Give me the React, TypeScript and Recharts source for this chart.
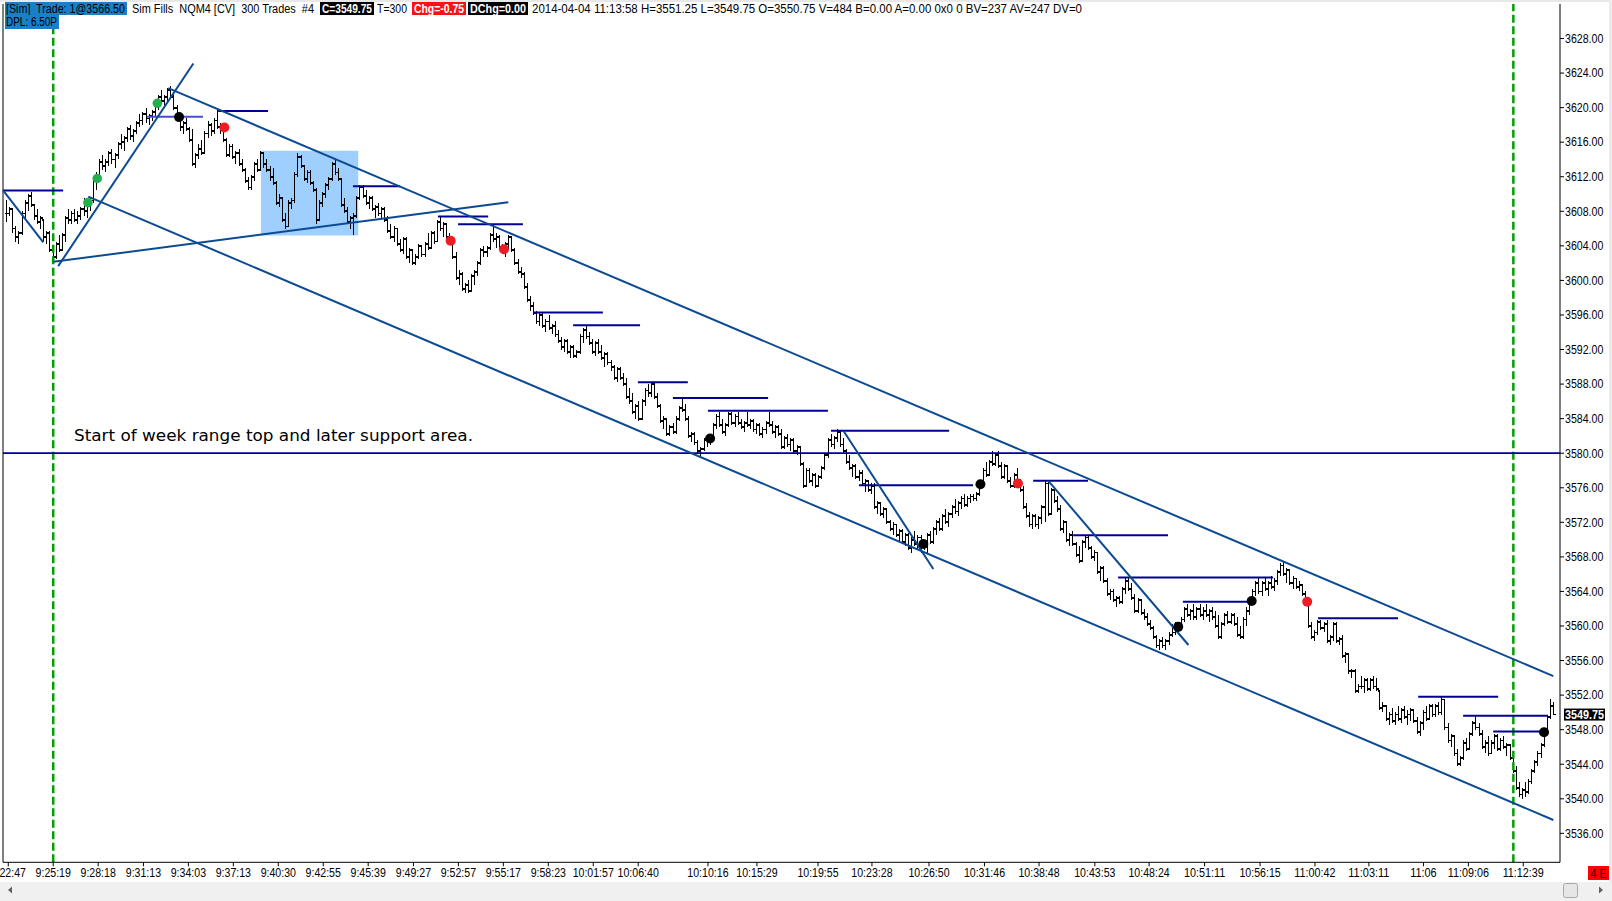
import React from 'react';
import {
  ComposedChart, Bar, XAxis, YAxis, ReferenceLine, ReferenceDot, ReferenceArea,
} from 'recharts';

// each bar: [high, low, close], NQM4 300-trade bars
type Hlc = [number, number, number];

const barsA: Hlc[] = [
  [3609.25, 3606.75, 3607.75], [3608.5, 3607.5, 3608.25], [3608.25, 3605.5, 3606.0], [3606.25, 3604.5, 3605.0],
  [3605.75, 3604.25, 3605.5], [3608.0, 3605.25, 3607.75], [3609.25, 3607.25, 3609.0], [3610.0, 3608.0, 3609.75],
  [3610.25, 3608.5, 3608.75], [3608.75, 3607.0, 3607.5], [3608.25, 3606.5, 3606.75], [3607.5, 3606.0, 3607.25],
  [3607.0, 3604.5, 3605.0], [3605.75, 3604.25, 3605.5], [3605.75, 3603.25, 3603.5], [3604.0, 3602.25, 3602.75],
  [3604.5, 3602.5, 3604.25], [3605.25, 3603.25, 3603.5], [3605.5, 3603.5, 3605.25], [3607.5, 3604.5, 3607.25],
  [3608.25, 3606.5, 3607.0], [3608.0, 3606.5, 3607.75], [3608.25, 3606.75, 3607.0], [3608.0, 3606.5, 3607.5],
  [3608.5, 3607.0, 3608.25], [3609.5, 3607.5, 3608.0], [3609.25, 3607.25, 3609.0], [3609.5, 3608.0, 3609.25],
  [3612.0, 3609.0, 3611.75], [3612.5, 3610.5, 3612.0], [3614.0, 3611.75, 3613.75],
];
const barsB: Hlc[] = [
  [3614.5, 3612.75, 3613.25], [3614.0, 3612.5, 3613.75], [3615.0, 3613.25, 3614.75], [3615.25, 3613.5, 3614.0],
  [3614.75, 3613.0, 3614.5], [3616.0, 3614.0, 3615.75], [3617.0, 3615.25, 3616.0], [3616.75, 3615.0, 3616.5],
  [3617.75, 3616.0, 3617.5], [3618.0, 3616.25, 3616.75], [3617.5, 3616.0, 3617.25], [3618.5, 3617.0, 3618.25],
  [3619.25, 3617.75, 3618.5], [3619.5, 3618.0, 3619.25], [3620.0, 3618.25, 3618.75], [3619.25, 3618.0, 3619.0],
  [3619.75, 3618.5, 3619.5], [3620.75, 3619.0, 3620.5], [3621.5, 3619.75, 3621.25], [3622.0, 3620.5, 3620.75],
  [3621.5, 3620.0, 3621.25], [3622.25, 3620.75, 3622.0], [3622.5, 3621.0, 3621.25], [3621.75, 3619.75, 3620.0],
  [3620.25, 3618.75, 3619.0],
];
const barsC: Hlc[] = [
  [3619.0, 3617.25, 3617.75], [3618.5, 3617.0, 3618.25], [3618.75, 3617.25, 3617.5], [3617.75, 3616.0, 3616.25],
  [3617.5, 3613.25, 3613.5], [3614.75, 3613.0, 3614.5], [3615.75, 3614.0, 3615.25], [3616.25, 3614.5, 3614.75],
  [3617.25, 3614.75, 3617.0], [3618.5, 3616.5, 3618.0], [3618.25, 3616.75, 3617.25], [3618.75, 3617.0, 3618.5],
  [3619.75, 3617.5, 3617.75], [3618.25, 3617.0, 3618.0], [3618.25, 3616.0, 3616.25], [3616.5, 3614.25, 3614.5],
  [3615.75, 3614.25, 3615.5], [3615.75, 3614.0, 3614.25], [3615.0, 3613.5, 3614.75], [3615.25, 3613.25, 3613.5],
  [3614.0, 3612.5, 3612.75], [3613.0, 3611.25, 3611.5], [3612.0, 3610.5, 3610.75], [3612.25, 3610.5, 3612.0],
  [3613.75, 3611.5, 3613.5], [3614.0, 3612.5, 3612.75], [3615.0, 3612.75, 3614.75],
];
const barsD: Hlc[] = [
  [3614.75, 3613.0, 3613.5], [3614.0, 3612.5, 3612.75], [3613.25, 3611.5, 3612.0], [3613.0, 3611.0, 3611.25],
  [3611.5, 3608.75, 3609.0], [3610.0, 3608.5, 3609.5], [3609.5, 3606.75, 3607.0], [3607.75, 3606.0, 3606.25],
  [3609.25, 3606.25, 3609.0], [3609.5, 3608.25, 3609.25], [3612.5, 3609.0, 3612.25], [3614.75, 3612.0, 3614.25],
  [3614.5, 3613.0, 3613.25], [3613.25, 3611.5, 3611.75], [3612.75, 3611.25, 3612.5], [3612.75, 3611.0, 3611.25],
  [3611.5, 3610.25, 3610.5], [3610.75, 3606.5, 3607.0], [3609.25, 3607.0, 3609.0], [3610.25, 3608.5, 3610.0],
  [3611.25, 3609.5, 3611.0], [3612.0, 3610.5, 3611.75], [3613.75, 3611.5, 3613.5], [3614.0, 3612.25, 3612.5],
  [3613.0, 3611.5, 3611.75], [3611.75, 3608.5, 3608.75], [3609.5, 3607.75, 3608.0], [3608.5, 3606.5, 3606.75],
  [3607.5, 3606.0, 3607.25], [3607.75, 3605.25, 3607.5], [3609.75, 3607.25, 3609.5],
];
const barsE: Hlc[] = [
  [3611.0, 3609.25, 3610.75], [3611.0, 3609.5, 3609.75], [3610.5, 3608.75, 3609.0], [3609.75, 3608.25, 3609.5],
  [3609.75, 3608.0, 3608.25], [3608.75, 3607.25, 3608.5], [3609.0, 3607.5, 3607.75], [3608.5, 3607.25, 3608.25],
  [3608.5, 3606.75, 3607.0], [3607.5, 3605.5, 3605.75], [3606.5, 3604.75, 3605.0], [3606.25, 3604.5, 3606.0],
  [3606.0, 3604.0, 3604.25], [3604.75, 3603.25, 3603.5], [3605.0, 3603.0, 3604.75], [3605.0, 3602.5, 3602.75],
  [3603.75, 3602.0, 3603.5], [3603.5, 3601.75, 3602.0], [3603.0, 3601.75, 3602.75], [3604.25, 3602.5, 3604.0],
  [3604.0, 3602.75, 3603.0], [3604.5, 3602.75, 3604.25], [3605.5, 3603.5, 3603.75], [3605.75, 3603.75, 3605.5],
  [3605.75, 3604.25, 3604.5], [3607.0, 3604.5, 3606.75], [3607.5, 3605.75, 3606.0], [3606.75, 3605.0, 3606.5],
  [3606.5, 3604.75, 3605.0], [3605.5, 3604.25, 3604.5], [3604.75, 3602.5, 3602.75], [3603.25, 3600.0, 3600.25],
  [3601.25, 3599.5, 3600.75], [3601.0, 3598.75, 3599.0], [3599.75, 3598.5, 3599.5], [3600.0, 3598.5, 3598.75],
  [3600.75, 3598.75, 3600.5], [3601.25, 3599.5, 3601.0], [3602.25, 3600.5, 3602.0], [3603.75, 3601.75, 3603.5],
  [3604.0, 3602.75, 3603.25], [3604.0, 3602.75, 3603.75], [3605.5, 3603.5, 3605.25], [3606.5, 3604.5, 3604.75],
  [3605.5, 3603.75, 3605.0], [3605.25, 3603.5, 3603.75], [3604.25, 3603.0, 3603.5], [3604.5, 3602.75, 3604.25],
  [3605.25, 3603.5, 3605.0], [3605.0, 3603.25, 3603.5],
];
const barsF: Hlc[] = [
  [3603.75, 3601.75, 3602.0], [3602.5, 3600.75, 3601.0], [3601.5, 3600.25, 3600.75], [3601.0, 3599.0, 3599.25],
  [3599.75, 3597.5, 3597.75], [3598.25, 3596.5, 3597.0], [3597.5, 3596.0, 3596.25], [3596.5, 3595.0, 3595.25],
  [3596.25, 3594.75, 3596.0], [3596.25, 3594.5, 3594.75], [3595.5, 3594.0, 3595.25], [3596.0, 3594.25, 3594.5],
  [3595.0, 3593.75, 3594.75], [3595.25, 3593.5, 3593.75], [3594.25, 3592.75, 3593.0], [3593.5, 3592.0, 3592.25],
  [3593.25, 3591.75, 3593.0], [3593.25, 3591.5, 3591.75], [3592.5, 3591.0, 3592.25], [3592.5, 3591.0, 3591.25],
  [3592.0, 3591.0, 3591.75], [3593.75, 3591.5, 3593.5], [3594.5, 3592.75, 3594.25], [3594.75, 3593.25, 3593.5],
  [3594.0, 3592.5, 3592.75], [3593.25, 3591.5, 3591.75], [3593.0, 3591.25, 3592.75], [3593.25, 3591.5, 3591.75],
  [3592.5, 3590.75, 3591.0], [3591.75, 3590.0, 3591.5], [3591.75, 3590.25, 3590.5], [3590.75, 3589.5, 3590.0],
  [3590.25, 3588.5, 3588.75], [3590.0, 3588.25, 3589.75], [3590.0, 3588.5, 3588.75], [3589.25, 3587.75, 3588.0],
  [3588.75, 3586.25, 3586.5], [3587.5, 3585.75, 3586.0], [3587.0, 3584.5, 3584.75], [3585.75, 3584.0, 3585.5],
  [3586.0, 3583.75, 3584.0], [3586.25, 3584.0, 3586.0],
];
const barsG: Hlc[] = [
  [3587.5, 3585.5, 3587.25], [3588.0, 3586.5, 3587.0], [3588.25, 3586.5, 3588.0], [3588.0, 3586.25, 3586.5],
  [3587.0, 3585.25, 3585.5], [3585.75, 3583.5, 3583.75], [3584.25, 3582.75, 3584.0], [3584.0, 3582.0, 3582.25],
  [3583.25, 3582.0, 3583.0], [3583.5, 3582.25, 3582.5], [3584.25, 3582.25, 3584.0], [3585.5, 3583.75, 3585.25],
  [3586.25, 3584.75, 3585.0], [3585.75, 3583.75, 3584.0], [3584.25, 3581.75, 3582.0], [3582.5, 3581.25, 3582.25],
  [3582.5, 3581.0, 3581.25], [3581.5, 3580.0, 3580.25], [3580.75, 3579.5, 3580.5], [3581.75, 3580.25, 3581.5],
  [3582.0, 3580.75, 3581.25], [3582.25, 3581.0, 3582.0], [3583.5, 3581.75, 3583.25], [3584.5, 3582.75, 3584.25],
  [3584.75, 3583.0, 3583.25], [3584.0, 3582.25, 3582.5], [3583.5, 3582.0, 3583.25], [3584.75, 3583.0, 3584.5],
  [3584.75, 3583.25, 3583.5], [3584.5, 3583.0, 3584.25], [3584.75, 3583.25, 3583.5], [3584.0, 3582.75, 3583.0],
  [3583.75, 3582.5, 3583.5], [3584.75, 3583.0, 3583.25], [3584.0, 3582.75, 3583.75], [3584.0, 3582.5, 3582.75],
  [3583.5, 3582.25, 3583.25], [3583.5, 3582.0, 3582.25], [3583.0, 3581.75, 3582.75], [3583.75, 3582.25, 3583.5],
  [3584.75, 3583.0, 3583.25], [3583.75, 3582.25, 3582.5], [3583.25, 3581.75, 3583.0], [3583.25, 3582.0, 3582.25],
  [3582.75, 3580.5, 3580.75], [3582.0, 3580.5, 3581.75], [3582.25, 3580.75, 3581.0], [3581.75, 3580.25, 3581.5],
  [3581.75, 3580.0, 3580.25], [3581.0, 3579.75, 3580.75], [3580.75, 3578.5, 3578.75], [3579.0, 3576.0, 3576.25],
  [3578.25, 3576.25, 3578.0], [3578.25, 3576.5, 3576.75], [3577.75, 3576.25, 3577.5], [3577.75, 3576.0, 3576.25],
  [3577.5, 3576.25, 3577.25], [3578.5, 3577.0, 3578.25], [3580.0, 3578.0, 3579.75], [3581.75, 3579.5, 3581.5],
  [3582.25, 3580.75, 3581.0], [3582.0, 3580.5, 3581.75], [3582.75, 3581.25, 3582.5], [3582.5, 3580.75, 3581.0],
  [3581.75, 3580.0, 3580.25],
];
const barsH: Hlc[] = [
  [3580.5, 3578.75, 3579.0], [3579.75, 3578.0, 3578.25], [3578.75, 3577.25, 3578.5], [3578.75, 3577.0, 3577.25],
  [3578.0, 3576.75, 3577.75], [3578.0, 3576.25, 3576.5], [3577.0, 3575.5, 3576.75], [3576.75, 3575.5, 3575.75],
  [3576.5, 3575.25, 3576.25], [3576.5, 3573.5, 3573.75], [3574.5, 3573.0, 3574.25], [3574.25, 3572.75, 3573.0],
  [3573.75, 3572.5, 3573.5], [3573.5, 3571.75, 3572.0], [3572.25, 3571.0, 3571.25], [3572.0, 3570.5, 3571.75],
  [3571.75, 3570.25, 3570.5], [3571.25, 3569.75, 3571.0], [3571.25, 3569.5, 3569.75], [3570.75, 3569.25, 3570.5],
  [3570.75, 3568.75, 3569.0], [3570.25, 3568.5, 3570.0], [3571.0, 3569.25, 3569.5], [3570.5, 3568.75, 3570.25],
  [3570.5, 3568.5, 3569.25], [3570.0, 3568.75, 3569.75],
];
const barsI: Hlc[] = [
  [3570.75, 3568.5, 3570.5], [3571.0, 3569.5, 3569.75], [3571.5, 3569.5, 3571.25], [3572.25, 3570.5, 3572.0],
  [3572.5, 3571.0, 3571.25], [3573.0, 3571.0, 3572.75], [3573.5, 3571.75, 3572.0], [3573.25, 3571.5, 3573.0],
  [3574.0, 3572.5, 3573.75], [3574.75, 3573.0, 3573.25], [3574.5, 3572.75, 3574.25], [3575.0, 3573.5, 3574.75],
  [3575.25, 3573.75, 3574.0], [3575.0, 3573.75, 3574.75], [3575.25, 3574.25, 3575.0], [3575.25, 3574.5, 3574.75],
  [3575.5, 3574.5, 3575.25], [3576.75, 3575.0, 3576.5], [3578.25, 3576.25, 3578.0], [3579.0, 3577.25, 3577.5],
  [3579.25, 3577.5, 3579.0], [3580.25, 3578.5, 3578.75], [3580.0, 3578.5, 3579.75], [3580.25, 3578.25, 3578.5],
  [3579.0, 3577.0, 3577.25], [3578.75, 3577.0, 3578.5], [3578.5, 3576.5, 3576.75], [3577.25, 3576.0, 3576.25],
  [3577.75, 3576.0, 3577.5], [3578.25, 3576.5, 3576.75], [3577.0, 3575.5, 3575.75], [3576.25, 3573.5, 3573.75],
  [3574.25, 3572.5, 3572.75], [3573.25, 3571.5, 3571.75],
];
const barsJ: Hlc[] = [
  [3573.0, 3571.25, 3572.75], [3573.0, 3571.5, 3571.75], [3572.75, 3571.25, 3572.5], [3574.0, 3571.75, 3573.75],
  [3576.75, 3572.0, 3576.5], [3576.75, 3572.75, 3573.0], [3576.0, 3573.0, 3575.75], [3576.0, 3574.25, 3574.5],
  [3575.0, 3573.25, 3573.5], [3574.0, 3571.0, 3571.25], [3572.25, 3570.75, 3572.0], [3572.0, 3569.75, 3570.0],
  [3570.75, 3569.25, 3570.5], [3571.0, 3569.25, 3569.5], [3569.75, 3568.0, 3568.25], [3569.25, 3567.25, 3567.5],
  [3570.0, 3567.5, 3569.75], [3570.5, 3569.0, 3570.25], [3570.5, 3568.75, 3569.0], [3569.25, 3567.75, 3568.0],
  [3568.75, 3567.5, 3568.5], [3568.5, 3566.0, 3566.25], [3567.0, 3565.25, 3566.75], [3567.0, 3565.0, 3565.25],
  [3565.5, 3563.5, 3563.75], [3564.25, 3563.0, 3564.0], [3564.25, 3562.75, 3563.0], [3563.5, 3562.25, 3563.25],
  [3563.5, 3562.5, 3562.75], [3564.5, 3562.5, 3564.25], [3565.5, 3563.75, 3565.25], [3565.5, 3564.0, 3564.25],
  [3565.0, 3563.0, 3563.25], [3563.75, 3561.5, 3561.75], [3563.25, 3561.5, 3563.0], [3563.0, 3561.25, 3561.5],
  [3562.0, 3560.75, 3561.0], [3561.5, 3560.0, 3560.25], [3560.75, 3559.5, 3559.75], [3560.0, 3558.5, 3558.75],
  [3559.0, 3557.5, 3557.75], [3558.5, 3557.25, 3558.25], [3558.75, 3557.5, 3557.75], [3558.5, 3557.25, 3558.25],
  [3559.25, 3557.75, 3559.0], [3560.25, 3558.75, 3559.25], [3560.5, 3559.0, 3560.25], [3560.5, 3559.25, 3559.75],
];
const barsK: Hlc[] = [
  [3561.0, 3559.5, 3560.75], [3562.25, 3560.5, 3562.0], [3562.5, 3561.0, 3561.25], [3562.0, 3560.75, 3561.75],
  [3562.5, 3560.75, 3561.0], [3562.25, 3560.75, 3562.0], [3562.5, 3561.0, 3561.25], [3562.25, 3560.75, 3561.75],
  [3562.5, 3561.0, 3561.25], [3562.0, 3560.5, 3561.75], [3562.25, 3560.75, 3561.0], [3561.75, 3559.75, 3560.0],
  [3561.25, 3558.5, 3558.75], [3560.5, 3558.5, 3560.25], [3561.5, 3560.0, 3561.25], [3561.75, 3560.25, 3560.5],
  [3561.5, 3560.25, 3561.25], [3561.5, 3560.0, 3560.25], [3561.0, 3558.75, 3559.0], [3560.0, 3558.5, 3558.75],
  [3561.0, 3558.5, 3560.75], [3562.25, 3560.0, 3561.75], [3563.0, 3561.25, 3562.75], [3564.25, 3562.5, 3564.0],
  [3565.25, 3563.5, 3565.0], [3565.5, 3563.75, 3564.0], [3565.25, 3563.5, 3565.0], [3565.5, 3564.0, 3564.25],
  [3565.25, 3563.5, 3565.0], [3565.75, 3564.25, 3564.5], [3565.5, 3564.0, 3565.25], [3566.5, 3564.75, 3566.25],
  [3567.25, 3565.75, 3567.0], [3567.5, 3565.75, 3566.0], [3566.75, 3565.0, 3566.5], [3566.5, 3564.75, 3565.0],
  [3565.75, 3564.25, 3565.5], [3565.5, 3564.25, 3564.5], [3565.25, 3564.0, 3564.75], [3564.75, 3563.5, 3563.75],
  [3564.0, 3562.75, 3563.0], [3563.0, 3559.75, 3560.0],
];
const barsL: Hlc[] = [
  [3560.5, 3558.5, 3558.75], [3559.5, 3558.25, 3559.25], [3560.75, 3559.0, 3560.5], [3560.75, 3559.5, 3559.75],
  [3560.5, 3559.25, 3560.25], [3560.75, 3558.0, 3558.25], [3559.0, 3557.75, 3558.75], [3560.5, 3558.25, 3560.25],
  [3560.5, 3558.0, 3558.25], [3558.75, 3557.75, 3558.5], [3559.0, 3556.25, 3556.5], [3557.0, 3555.75, 3556.75],
  [3556.75, 3554.5, 3554.75], [3555.0, 3554.0, 3554.75], [3555.0, 3552.25, 3552.5], [3553.25, 3552.25, 3553.0],
  [3554.25, 3552.75, 3553.0], [3554.0, 3552.25, 3553.75], [3554.0, 3552.5, 3552.75], [3554.0, 3552.5, 3553.75],
  [3554.25, 3552.75, 3553.0], [3554.0, 3552.5, 3552.75], [3552.5, 3550.25, 3550.5], [3551.25, 3550.0, 3550.75],
  [3550.75, 3549.0, 3549.25], [3550.0, 3548.5, 3549.75], [3550.5, 3548.75, 3549.0], [3550.0, 3548.5, 3549.75],
  [3550.75, 3549.0, 3549.25], [3550.5, 3548.75, 3550.25], [3550.75, 3549.25, 3549.5], [3550.25, 3548.5, 3549.75],
  [3550.5, 3549.0, 3550.25], [3550.25, 3548.75, 3549.0], [3549.5, 3547.5, 3547.75], [3549.0, 3547.25, 3548.75],
  [3550.25, 3548.0, 3550.0], [3550.75, 3549.0, 3549.25], [3551.0, 3549.25, 3550.75], [3551.0, 3549.5, 3549.75],
  [3551.0, 3549.5, 3550.75], [3551.25, 3549.75, 3550.0], [3551.75, 3549.75, 3551.5], [3551.5, 3548.0, 3548.25],
  [3548.75, 3546.5, 3546.75], [3547.5, 3546.0, 3547.25], [3547.25, 3545.0, 3545.25], [3545.75, 3543.75, 3544.0],
  [3545.0, 3543.75, 3544.75], [3546.75, 3544.5, 3546.5], [3547.0, 3545.5, 3545.75], [3547.75, 3545.75, 3547.5],
  [3549.0, 3547.25, 3548.75], [3549.75, 3548.0, 3548.25], [3548.75, 3547.25, 3547.5], [3548.0, 3545.75, 3546.0],
  [3546.75, 3545.25, 3546.5], [3547.25, 3545.0, 3545.25], [3546.75, 3545.25, 3546.5], [3547.5, 3545.75, 3547.25],
  [3547.5, 3545.5, 3545.75], [3547.0, 3545.5, 3546.75], [3547.25, 3545.75, 3546.0], [3546.5, 3545.0, 3546.25],
  [3546.25, 3544.5, 3544.75], [3545.0, 3543.0, 3543.25], [3543.75, 3541.0, 3541.25], [3542.0, 3540.25, 3540.5],
  [3541.25, 3540.0, 3541.0], [3542.0, 3540.25, 3540.75], [3542.25, 3540.5, 3542.0], [3543.5, 3541.75, 3543.25],
  [3544.5, 3543.0, 3544.25], [3545.5, 3543.75, 3545.25], [3546.5, 3544.75, 3546.25], [3548.0, 3546.0, 3547.75],
  [3549.75, 3547.5, 3549.5], [3551.5, 3549.25, 3550.75], [3551.25, 3549.75, 3549.75],
];

const ohlc: Hlc[] = [
  ...barsA, ...barsB, ...barsC, ...barsD, ...barsE, ...barsF,
  ...barsG, ...barsH, ...barsI, ...barsJ, ...barsK, ...barsL,
];

const priceTicks = [
  3536, 3540, 3544, 3548, 3552, 3556, 3560, 3564, 3568, 3572, 3576, 3580,
  3584, 3588, 3592, 3596, 3600, 3604, 3608, 3612, 3616, 3620, 3624, 3628,
];

// time labels sit on bar positions
const timeTickBars = [
  0.7, 15.2, 29.7, 44.3, 58.8, 73.3, 87.8, 102.3, 116.8, 131.4, 145.9, 160.4, 174.9, 189.4, 203.9,
  226.4, 242.2, 261.9, 279.3, 297.7, 315.6, 333.2, 351.2, 368.7, 386.6, 404.5, 422.2, 439.6, 457.2, 471.7, 489.4,
];
const timeTickLabels = [
  '9:22:47', '9:25:19', '9:28:18', '9:31:13', '9:34:03', '9:37:13', '9:40:30', '9:42:55', '9:45:39', '9:49:27',
  '9:52:57', '9:55:17', '9:58:23', '10:01:57', '10:06:40', '10:10:16', '10:15:29', '10:19:55', '10:23:28',
  '10:26:50', '10:31:46', '10:38:48', '10:43:53', '10:48:24', '10:51:11', '10:56:15', '11:00:42', '11:03:11',
  '11:06', '11:09:06', '11:12:39',
];

const sessionMarks = [15.2, 486.2];
const weekRangeTop = 3580;

// drawn trendlines: [bar1, price1, bar2, price2]
const trendLines = [
  [52.3, 3622.25, 499.1, 3554.2],
  [26.5, 3609.7, 499.1, 3537.55],
  [16.8, 3601.65, 60.4, 3625.1],
  [15.2, 3602.15, 162.0, 3609.05],
  [-0.9, 3610.4, 12.0, 3604.4],
  [270.1, 3582.6, 299.1, 3566.6],
  [336.2, 3576.8, 381.4, 3557.8],
];

// horizontal rays: [fromBar, toBar, price]
const levelLines = [
  [-1, 18.4, 3610.4], [68.4, 84.5, 3619.6], [111.9, 127.1, 3610.9], [139.3, 155.5, 3607.4],
  [145.8, 166.7, 3606.5], [170, 192.5, 3596.3], [182.9, 204.5, 3594.8], [203.8, 219.9, 3588.2],
  [215.1, 245.8, 3586.4], [226.4, 265.1, 3584.9], [266.1, 304.2, 3582.6], [275.1, 311.9, 3576.3],
  [331.3, 349, 3576.8], [344.2, 374.8, 3570.5], [358.7, 408.7, 3565.6], [379.6, 401.3, 3562.8],
  [423.2, 449, 3560.9], [455.5, 481.3, 3551.8], [470, 497.4, 3549.6], [479.7, 495.8, 3547.8],
];
const entryLevel = [45.5, 63.5, 3618.95];

const congestionBox = { x1: 82.2, x2: 113.6, y1: 3605.2, y2: 3615.0 };

const greenDots = [[26.4, 3609.0], [29.4, 3611.8], [48.8, 3620.5]];
const blackDots = [
  [55.8, 3618.9], [227.1, 3581.7], [295.9, 3569.5], [314.3, 3576.4],
  [378.1, 3559.9], [401.8, 3562.9], [496.1, 3547.7],
];
const redDots = [[70.4, 3617.7], [143.4, 3604.6], [160.6, 3603.6], [326.4, 3576.5], [419.7, 3562.8]];

const lastClose = ohlc[ohlc.length - 1][2];

const table = ohlc.map(([h, l, c], i) => {
  const prev = i > 0 ? ohlc[i - 1][2] : c;
  return { i, range: [l, h], h, l, c, o: Math.min(h, Math.max(l, prev)) };
});

const DIAG = '#0c4a92';
const LEVEL = '#000096';
const W = 1612;
const H = 901;

// rough width of the narrow bitmap font used by the platform
const textW = (s: string) => s.split('').reduce((a, ch) => a + (/[0-9]/.test(ch) ? 5.9 : 2.9), 0);

const OhlcShape = (props: any) => {
  const { x, y, width, height, payload } = props;
  if (x == null || !payload) return null;
  const cx = Math.round(x + width / 2) + 0.5;
  const top = Math.min(y, y + height);
  const bot = Math.max(y, y + height);
  const span = payload.h - payload.l;
  const toY = (v: number) => (span > 0 ? top + ((payload.h - v) / span) * (bot - top) : top);
  const yo = toY(payload.o);
  const yc = toY(payload.c);
  return (
    <g stroke="#000" shapeRendering="crispEdges">
      <line x1={cx} x2={cx} y1={top} y2={bot} strokeWidth={1} />
      <line x1={cx - 2} x2={cx} y1={yo} y2={yo} strokeWidth={1.8} />
      <line x1={cx} x2={cx + 2} y1={yc} y2={yc} strokeWidth={1.8} />
    </g>
  );
};

const PriceTick = (props: any) => {
  const { x, y, payload } = props;
  const s = Number(payload.value).toFixed(2);
  return (
    <text x={x} y={y + 4.3} fontSize={12} fontFamily="Liberation Sans, Arial, sans-serif" fill="#000"
      textLength={textW(s)} lengthAdjust="spacingAndGlyphs">{s}</text>
  );
};

const TimeTick = (props: any) => {
  const { x, y, payload } = props;
  const k = timeTickBars.indexOf(payload.value);
  const s = k >= 0 ? timeTickLabels[k] : '';
  const w = textW(s);
  return (
    <text x={x - w / 2} y={y + 11} fontSize={12} fontFamily="Liberation Sans, Arial, sans-serif" fill="#000"
      textLength={w} lengthAdjust="spacingAndGlyphs">{s}</text>
  );
};

const LastPriceTag = (props: any) => {
  const { cx, cy } = props;
  if (cx == null) return null;
  const s = lastClose.toFixed(2);
  return (
    <g>
      <rect x={cx + 4} y={cy - 6} width={41} height={12} fill="#000" />
      <text x={cx + 5} y={cy + 4.3} fontSize={12} fontWeight="bold" fontFamily="Liberation Sans, Arial, sans-serif"
        fill="#fff" textLength={39} lengthAdjust="spacingAndGlyphs">{s}</text>
    </g>
  );
};

const hdrFont = 'Liberation Sans, Arial, sans-serif';

function HeaderText({ x, y, w, text, color = '#000', bold = false }: any) {
  return (
    <text x={x} y={y} fontSize={12} fontFamily={hdrFont} fill={color} fontWeight={bold ? 'bold' : 'normal'}
      textLength={w} lengthAdjust="spacingAndGlyphs" style={{ whiteSpace: 'pre' }}>{text}</text>
  );
}

function Overlay() {
  return (
    <svg width={W} height={H} style={{ position: 'absolute', left: 0, top: 0, pointerEvents: 'none' }}>
      <rect x={0} y={0} width={W} height={2} fill="#e8e8e8" />
      <rect x={1609} y={0} width={3} height={H} fill="#ececec" />

      <rect x={5} y={2} width={122} height={13} fill="#1a7fc7" />
      <HeaderText x={6} y={13} w={119} text="[Sim]  Trade: 1@3566.50" />
      <rect x={5} y={15} width={54} height={14} fill="#1a7fc7" />
      <HeaderText x={6} y={26} w={51} text="DPL: 6.50P" />
      <HeaderText x={132} y={13} w={182} text="Sim Fills  NQM4 [CV]  300 Trades  #4" />
      <rect x={320} y={2} width={54} height={13} fill="#000" />
      <HeaderText x={322} y={13} w={50} text="C=3549.75" color="#fff" bold />
      <HeaderText x={377} y={13} w={30} text="T=300" />
      <rect x={412} y={2} width={54} height={13} fill="#ff1010" />
      <HeaderText x={414} y={13} w={50} text="Chg=-0.75" color="#fff" bold />
      <rect x={468} y={2} width={60} height={13} fill="#000" />
      <HeaderText x={470} y={13} w={56} text="DChg=0.00" color="#fff" bold />
      <HeaderText x={532} y={13} w={550}
        text="2014-04-04 11:13:58 H=3551.25 L=3549.75 O=3550.75 V=484 B=0.00 A=0.00 0x0 0 BV=237 AV=247 DV=0" />

      <text x={74} y={440.5} fontSize={15.5} fontFamily="DejaVu Sans, Verdana, sans-serif" fill="#000"
        textLength={399} lengthAdjust="spacingAndGlyphs">Start of week range top and later support area.</text>

      <rect x={1588} y={866} width={21} height={14} fill="#ff0000" />
      <text x={1590.5} y={877.5} fontSize={12} fontFamily={hdrFont} fill="#220000"
        textLength={16} lengthAdjust="spacingAndGlyphs" style={{ whiteSpace: 'pre' }}>4 E</text>

      <rect x={0} y={882} width={W} height={19} fill="#f0f0f0" />
      <path d="M 8 890 L 12 886.5 L 12 893.5 Z" fill="#606060" />
      <rect x={1563.5} y={883.5} width={14} height={14} rx={2} fill="#e6e6e6" stroke="#a8a8a8" />
      <path d="M 1603 890 L 1599 886.5 L 1599 893.5 Z" fill="#606060" />
    </svg>
  );
}

export default function App() {
  return (
    <div style={{ position: 'absolute', left: 0, top: 0, width: W, height: H, background: '#fff', overflow: 'hidden' }}>
      <ComposedChart width={W} height={H} data={table} margin={{ top: 3.94, right: 7, bottom: 8.7, left: 3 }}>
        <XAxis dataKey="i" type="number" domain={[-1, 501.25]} allowDataOverflow ticks={timeTickBars} interval={0}
          tickSize={4} tickMargin={0} height={30} stroke="#000" tick={<TimeTick />} />
        <YAxis orientation="right" type="number" domain={[3532.65, 3632]} allowDataOverflow ticks={priceTicks}
          interval={0} width={45} tickSize={4} tickMargin={1} stroke="#000" tick={<PriceTick />} />

        <ReferenceArea x1={congestionBox.x1} x2={congestionBox.x2} y1={congestionBox.y1} y2={congestionBox.y2}
          fill="#9fcfff" fillOpacity={1} stroke="none" />
        <ReferenceLine x={-1} stroke="#000" strokeWidth={1} />
        {sessionMarks.map((b) => (
          <ReferenceLine key={b} x={b} stroke="#00a000" strokeWidth={2.5} strokeDasharray="8 3.5" />
        ))}

        <Bar dataKey="range" barSize={1} shape={OhlcShape} isAnimationActive={false} />

        <ReferenceLine y={weekRangeTop} stroke={LEVEL} strokeWidth={1.8} />
        {levelLines.map(([a, b, p], k) => (
          <ReferenceLine key={'lv' + k} segment={[{ x: a, y: p }, { x: b, y: p }]} stroke={LEVEL} strokeWidth={2} />
        ))}
        <ReferenceLine segment={[{ x: entryLevel[0], y: entryLevel[2] }, { x: entryLevel[1], y: entryLevel[2] }]}
          stroke="#4a4ad2" strokeWidth={2} />
        {trendLines.map(([a, p, b, q], k) => (
          <ReferenceLine key={'tl' + k} segment={[{ x: a, y: p }, { x: b, y: q }]} stroke={DIAG} strokeWidth={2} />
        ))}

        {greenDots.map(([b, p], k) => (
          <ReferenceDot key={'g' + k} x={b} y={p} r={4.8} fill="#22b14c" stroke="none" />
        ))}
        {blackDots.map(([b, p], k) => (
          <ReferenceDot key={'k' + k} x={b} y={p} r={5} fill="#000" stroke="none" />
        ))}
        {redDots.map(([b, p], k) => (
          <ReferenceDot key={'r' + k} x={b} y={p} r={5} fill="#ee1c24" stroke="none" />
        ))}
        <ReferenceDot x={501.25} y={lastClose} r={1} shape={<LastPriceTag />} />
      </ComposedChart>
      <Overlay />
    </div>
  );
}
